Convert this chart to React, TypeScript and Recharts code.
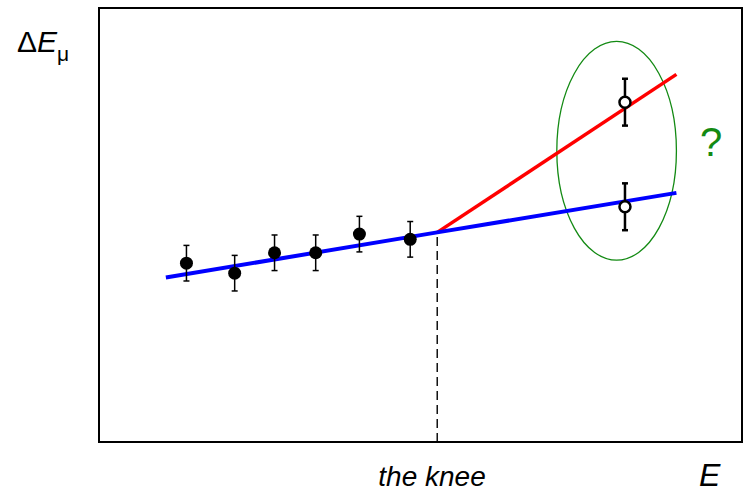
import {
  ComposedChart,
  ErrorBar,
  Line,
  ReferenceArea,
  ReferenceLine,
  Scatter,
  XAxis,
  YAxis,
} from "recharts";

// abstract units, both axes 0..10
const measuredX = [1.36, 2.11, 2.73, 3.37, 4.05, 4.84];
const measuredY = [4.12, 3.89, 4.36, 4.36, 4.79, 4.67];
const measuredErr = [0.41, 0.41, 0.41, 0.41, 0.41, 0.41];

const openX = [8.18, 8.18];
const openY = [7.83, 5.42];
const openErr = [0.54, 0.54];

const KNEE_X = 5.26;
const KNEE_Y = 4.83;

const blueX = [1.04, KNEE_X, 8.98];
const blueY = [3.79, KNEE_Y, 5.74];
const redX = [KNEE_X, 8.98];
const redY = [KNEE_Y, 8.47];

// ellipse around the two open points (centre and half-axes)
const ELLIPSE = { cx: 8.05, cy: 6.71, rx: 0.93, ry: 2.52 };

const GREEN = "#138a13";
const FONT = "'Liberation Sans', Arial, sans-serif";

const measured = measuredX.map((x, i) => ({ x, y: measuredY[i], err: measuredErr[i] }));
const open = openX.map((x, i) => ({ x, y: openY[i], err: openErr[i] }));
const blueLine = blueX.map((x, i) => ({ x, y: blueY[i] }));
const redLine = redX.map((x, i) => ({ x, y: redY[i] }));

function FilledDot(props: any) {
  const { cx, cy } = props;
  return <circle cx={cx} cy={cy} r={6.5} fill="#000" />;
}

function OpenDot(props: any) {
  const { cx, cy } = props;
  return <circle cx={cx} cy={cy} r={5.5} fill="#fff" stroke="#000" strokeWidth={2.5} />;
}

function EllipseShape(props: any) {
  const { x, y, width, height } = props;
  return (
    <ellipse
      cx={x + width / 2}
      cy={y + height / 2}
      rx={width / 2}
      ry={height / 2}
      fill="none"
      stroke={GREEN}
      strokeWidth={1.3}
    />
  );
}

export default function App() {
  return (
    <div style={{ position: "absolute", left: 0, top: 0, width: 744, height: 492, background: "#fff" }}>
      <ComposedChart
        width={744}
        height={492}
        margin={{ top: 8, right: 2, left: 99, bottom: 50 }}
      >
        <XAxis type="number" dataKey="x" domain={[0, 10]} hide allowDataOverflow />
        <YAxis type="number" dataKey="y" domain={[0, 10]} hide allowDataOverflow />
        <ReferenceArea
          x1={0}
          x2={10}
          y1={0}
          y2={10}
          fill="none"
          fillOpacity={0}
          stroke="#000"
          strokeWidth={2}
        />
        <ReferenceLine
          segment={[
            { x: KNEE_X, y: 0 },
            { x: KNEE_X, y: KNEE_Y },
          ]}
          stroke="#000"
          strokeWidth={1.4}
          strokeDasharray="9 5"
        />
        <ReferenceArea
          x1={ELLIPSE.cx - ELLIPSE.rx}
          x2={ELLIPSE.cx + ELLIPSE.rx}
          y1={ELLIPSE.cy - ELLIPSE.ry}
          y2={ELLIPSE.cy + ELLIPSE.ry}
          shape={EllipseShape}
        />
        <Line
          data={redLine}
          dataKey="y"
          stroke="#ff0000"
          strokeWidth={3.5}
          dot={false}
          activeDot={false}
          isAnimationActive={false}
        />
        <Line
          data={blueLine}
          dataKey="y"
          stroke="#0000ff"
          strokeWidth={4}
          dot={false}
          activeDot={false}
          isAnimationActive={false}
        />
        <Scatter data={measured} dataKey="y" shape={FilledDot} isAnimationActive={false}>
          <ErrorBar dataKey="err" direction="y" width={3} stroke="#000" strokeWidth={1.5} />
        </Scatter>
        <Scatter data={open} dataKey="y" shape={OpenDot} isAnimationActive={false}>
          <ErrorBar dataKey="err" direction="y" width={3} stroke="#000" strokeWidth={2.5} />
        </Scatter>
      </ComposedChart>
      <svg
        width={744}
        height={492}
        style={{ position: "absolute", left: 0, top: 0, pointerEvents: "none" }}
      >
        <text x={17} y={52} fontFamily={FONT} fontSize={30} fill="#000">
          Δ<tspan fontStyle="italic">E</tspan>
          <tspan fontSize={21} dy={9}>μ</tspan>
        </text>
        <text x={432} y={486} textAnchor="middle" fontFamily={FONT} fontSize={28} fontStyle="italic" fill="#000">
          the knee
        </text>
        <text x={699} y={486} fontFamily={FONT} fontSize={32} fontStyle="italic" fill="#000">
          E
        </text>
        <text x={700} y={156} fontFamily={FONT} fontSize={40} fill={GREEN}>
          ?
        </text>
      </svg>
    </div>
  );
}
